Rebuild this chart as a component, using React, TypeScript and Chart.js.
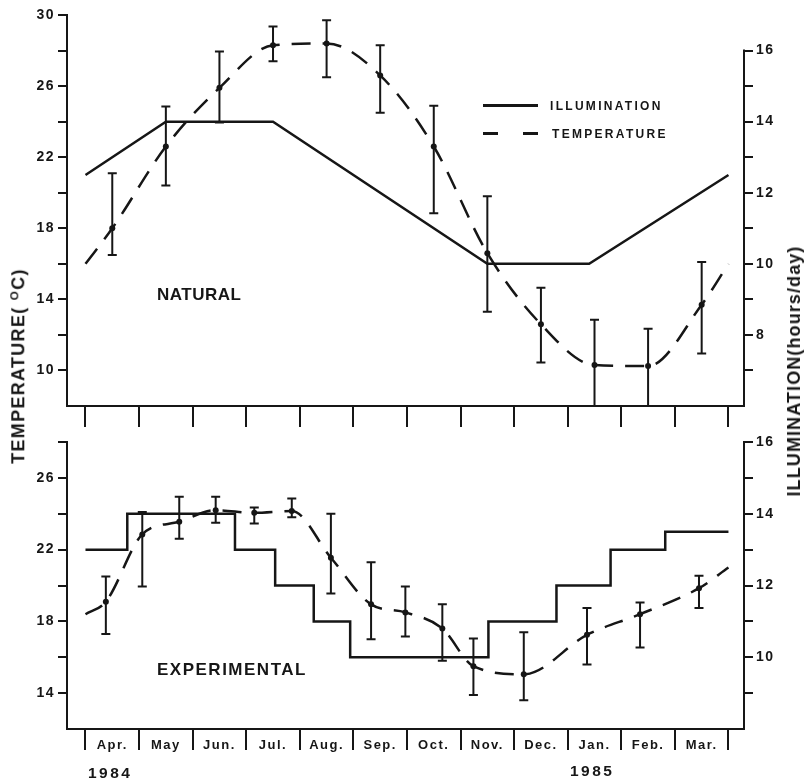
import React, { useEffect, useRef } from 'react';
import { Chart, registerables } from 'chart.js';

Chart.register(...registerables);

const INK = '#161616';
const FONT = '"Liberation Sans", Arial, Helvetica, sans-serif';

// x axis: months since 1 April 1984 (0 = start of April, 12 = end of March)
const MONTHS = ['Apr.', 'May', 'Jun.', 'Jul.', 'Aug.', 'Sep.', 'Oct.', 'Nov.', 'Dec.', 'Jan.', 'Feb.', 'Mar.'];
const MONTH_BOUNDARIES = [0, 1, 2, 3, 4, 5, 6, 7, 8, 9, 10, 11, 12];
const MONTH_CENTRES = [0.5, 1.5, 2.5, 3.5, 4.5, 5.5, 6.5, 7.5, 8.5, 9.5, 10.5, 11.5];
const YEARS = ['1984', '1985'];
const LEGEND_LABELS = ['ILLUMINATION', 'TEMPERATURE'];
const PANEL_LABELS = ['NATURAL', 'EXPERIMENTAL'];
const X_RANGE = [-0.345, 12.29];

// ---- NATURAL panel ----
const natIllumX = [0, 1.5, 3.5, 7.5, 9.4, 12];
const natIllumHours = [12.5, 14, 14, 10, 10, 12.5];
const natTempX = [0.5, 1.5, 2.5, 3.5, 4.5, 5.5, 6.5, 7.5, 8.5, 9.5, 10.5, 11.5];
const natTempMean = [18.0, 22.6, 25.9, 28.3, 28.4, 26.6, 22.6, 16.6, 12.6, 10.3, 10.25, 13.7];
const natTempHigh = [21.1, 24.85, 27.95, 29.35, 29.7, 28.3, 24.9, 19.8, 14.65, 12.85, 12.35, 16.1];
const natTempLow = [16.5, 20.4, 23.95, 27.4, 26.5, 24.5, 18.85, 13.3, 10.45, 8.0, 8.0, 10.95];
const natCurveEnds = [16.0, 16.0];
const natTempRange = [8, 30];
const natHourRange = [6, 17];
const natTempTicks = [10, 12, 14, 16, 18, 20, 22, 24, 26, 28, 30];
const natTempLabels = [10, 14, 18, 22, 26, 30];
const natHourTicks = [7, 8, 9, 10, 11, 12, 13, 14, 15, 16];
const natHourLabels = [8, 10, 12, 14, 16];
const natHourAxisTop = 16;

// ---- EXPERIMENTAL panel ----
const expIllumX = [0, 0.78, 2.79, 3.54, 4.26, 4.94, 7.52, 8.79, 9.8, 10.82, 12];
const expIllumHours = [13, 14, 13, 12, 11, 10, 11, 12, 13, 13.5, 13.5];
const expTempX = [0.38, 1.06, 1.75, 2.43, 3.15, 3.85, 4.58, 5.33, 5.97, 6.66, 7.24, 8.18, 9.36, 10.35, 11.45];
const expTempMean = [19.1, 22.85, 23.55, 24.2, 24.05, 24.15, 21.55, 18.95, 18.5, 17.6, 15.5, 15.05, 17.25, 18.4, 19.85];
const expTempHigh = [20.5, 24.1, 24.95, 24.95, 24.35, 24.85, 24.0, 21.3, 19.95, 18.95, 17.05, 17.4, 18.75, 19.05, 20.55];
const expTempLow = [17.3, 19.95, 22.6, 23.5, 23.45, 23.8, 19.55, 17.0, 17.15, 15.8, 13.9, 13.6, 15.6, 16.55, 18.75];
const expCurveEnds = [18.4, 21.0];
const expTempRange = [12, 28];
const expHourRange = [8, 16];
const expTempTicks = [14, 16, 18, 20, 22, 24, 26, 28];
const expTempLabels = [14, 18, 22, 26];
const expHourTicks = [9, 10, 11, 12, 13, 14, 15, 16];
const expHourLabels = [10, 12, 14, 16];

const pts = (xs: number[], ys: number[]) => xs.map((x, i) => ({ x, y: ys[i] }));

const errorBars = {
  id: 'errorBars',
  afterDatasetsDraw(chart: any) {
    const ctx = chart.ctx;
    chart.data.datasets.forEach((ds: any, i: number) => {
      if (!ds.errHigh) return;
      const meta = chart.getDatasetMeta(i);
      const xs = chart.scales[meta.xAxisID];
      const ys = chart.scales[meta.yAxisID];
      ctx.save();
      ctx.strokeStyle = INK;
      ctx.lineWidth = 2;
      ds.data.forEach((p: any, j: number) => {
        const x = xs.getPixelForValue(p.x);
        const yh = ys.getPixelForValue(ds.errHigh[j]);
        const yl = ys.getPixelForValue(ds.errLow[j]);
        ctx.beginPath();
        ctx.moveTo(x, yh);
        ctx.lineTo(x, yl);
        ctx.moveTo(x - 4.5, yh);
        ctx.lineTo(x + 4.5, yh);
        ctx.moveTo(x - 4.5, yl);
        ctx.lineTo(x + 4.5, yl);
        ctx.stroke();
      });
      ctx.restore();
    });
  },
};

const spacing = {
  id: 'spacing',
  beforeDraw(chart: any) {
    (chart.ctx as any).letterSpacing = '1.5px';
  },
};

const makePartialAxis = (top: number) => ({
  id: 'partialAxis',
  afterDraw(chart: any) {
    const s = chart.scales.y2;
    const ctx = chart.ctx;
    const x = Math.round(s.left);
    ctx.save();
    ctx.strokeStyle = INK;
    ctx.lineWidth = 2;
    ctx.beginPath();
    ctx.moveTo(x, s.getPixelForValue(top) - 1);
    ctx.lineTo(x, chart.chartArea.bottom + 1);
    ctx.stroke();
    ctx.restore();
  },
});

const yTickFont = { family: FONT, size: 14, weight: 'bold' as const };
const xTickFont = { family: FONT, size: 13, weight: 'bold' as const };

function yAxis(pos: 'left' | 'right', range: number[], ticks: number[], labels: number[], width: number, border = true) {
  return {
    type: 'linear',
    position: pos,
    min: range[0],
    max: range[1],
    bounds: 'data',
    afterBuildTicks: (s: any) => {
      s.ticks = ticks.map((v) => ({ value: v }));
    },
    afterFit: (s: any) => {
      s.width = width;
    },
    ticks: {
      callback: (v: number) => (labels.includes(v) ? String(v) : ''),
      font: yTickFont,
      color: INK,
      padding: 3,
      autoSkip: false,
    },
    grid: { drawOnChartArea: false, drawTicks: true, tickLength: 9, color: INK, lineWidth: 2 },
    border: { display: border, color: INK, width: 2 },
  };
}

function xAxis(withLabels: boolean, height: number) {
  const tickVals = withLabels
    ? [...MONTH_BOUNDARIES, ...MONTH_CENTRES].sort((a, b) => a - b)
    : MONTH_BOUNDARIES;
  return {
    type: 'linear',
    min: X_RANGE[0],
    max: X_RANGE[1],
    bounds: 'data',
    afterBuildTicks: (s: any) => {
      s.ticks = tickVals.map((v) => ({ value: v }));
    },
    afterFit: (s: any) => {
      s.height = height;
    },
    ticks: {
      display: withLabels,
      callback: (v: number) => {
        const i = MONTH_CENTRES.indexOf(v);
        return i >= 0 ? MONTHS[i] : '';
      },
      font: xTickFont,
      color: INK,
      padding: -12,
      maxRotation: 0,
      minRotation: 0,
      autoSkip: false,
    },
    grid: {
      drawOnChartArea: false,
      drawTicks: true,
      tickLength: 21,
      lineWidth: 2,
      color: (c: any) => (c.tick && MONTH_BOUNDARIES.includes(c.tick.value) ? INK : 'rgba(0,0,0,0)'),
    },
    border: { display: true, color: INK, width: 2 },
  };
}

function buildConfig(panel: 'nat' | 'exp'): any {
  const nat = panel === 'nat';
  const illum = nat
    ? {
        label: LEGEND_LABELS[0],
        data: pts(natIllumX, natIllumHours),
        yAxisID: 'y2',
        borderColor: INK,
        borderWidth: 2.5,
        pointRadius: 0,
        fill: false,
        tension: 0,
      }
    : {
        label: LEGEND_LABELS[0],
        data: pts(expIllumX, expIllumHours),
        yAxisID: 'y2',
        borderColor: INK,
        borderWidth: 2.5,
        pointRadius: 0,
        fill: false,
        stepped: 'before',
      };
  const tx = nat ? natTempX : expTempX;
  const tm = nat ? natTempMean : expTempMean;
  const ends = nat ? natCurveEnds : expCurveEnds;
  const curve = [{ x: MONTH_BOUNDARIES[0], y: ends[0] }, ...pts(tx, tm), { x: MONTH_BOUNDARIES[12], y: ends[1] }];
  const datasets = [
    illum,
    {
      label: LEGEND_LABELS[1],
      data: curve,
      yAxisID: 'y',
      borderColor: INK,
      borderWidth: 2.5,
      borderDash: [19, 12],
      pointRadius: 0,
      fill: false,
      cubicInterpolationMode: 'monotone',
    },
    {
      label: LEGEND_LABELS[1] + ' mean',
      data: pts(tx, tm),
      yAxisID: 'y',
      showLine: false,
      pointRadius: 3,
      pointBackgroundColor: INK,
      pointBorderColor: INK,
      pointBorderWidth: 0,
      errHigh: nat ? natTempHigh : expTempHigh,
      errLow: nat ? natTempLow : expTempLow,
    },
  ];
  const plugins: any[] = [spacing, errorBars];
  if (nat) plugins.push(makePartialAxis(natHourAxisTop));
  return {
    type: 'line',
    data: { datasets },
    plugins,
    options: {
      responsive: false,
      animation: false,
      events: [],
      layout: { padding: { top: nat ? 15 : 12, left: 0, right: 0, bottom: 0 } },
      plugins: { legend: { display: false }, tooltip: { enabled: false } },
      scales: {
        x: xAxis(!nat, nat ? 24 : 52),
        y: nat
          ? yAxis('left', natTempRange, natTempTicks, natTempLabels, 67)
          : yAxis('left', expTempRange, expTempTicks, expTempLabels, 67),
        y2: nat
          ? yAxis('right', natHourRange, natHourTicks, natHourLabels, 61, false)
          : yAxis('right', expHourRange, expHourTicks, expHourLabels, 61, true),
      },
    },
  };
}

function Panel({ panel, top, height }: { panel: 'nat' | 'exp'; top: number; height: number }) {
  const ref = useRef<HTMLCanvasElement>(null);
  useEffect(() => {
    if (!ref.current) return;
    const chart = new Chart(ref.current, buildConfig(panel));
    return () => chart.destroy();
  }, [panel]);
  return (
    <canvas
      ref={ref}
      width={805}
      height={height}
      style={{ position: 'absolute', left: 0, top, width: 805, height }}
    />
  );
}

const txt = (extra: any): any => ({
  position: 'absolute',
  whiteSpace: 'nowrap',
  color: INK,
  fontFamily: FONT,
  fontWeight: 'bold',
  lineHeight: 1,
  ...extra,
});

export default function App() {
  return (
    <div style={{ position: 'fixed', left: 0, top: 0, width: 805, height: 781, background: '#fff', overflow: 'hidden' }}>
      <Panel panel="nat" top={0} height={430} />
      <Panel panel="exp" top={430} height={351} />

      {/* legend */}
      <div style={{ position: 'absolute', left: 483, top: 104, width: 55, height: 2.5, background: INK }} />
      <div style={{ position: 'absolute', left: 483, top: 132, width: 15, height: 2.5, background: INK }} />
      <div style={{ position: 'absolute', left: 523, top: 132, width: 15, height: 2.5, background: INK }} />
      <div style={txt({ left: 550, top: 100, fontSize: 12, letterSpacing: '2.3px' })}>{LEGEND_LABELS[0]}</div>
      <div style={txt({ left: 552, top: 128, fontSize: 12, letterSpacing: '2.3px' })}>{LEGEND_LABELS[1]}</div>

      {/* panel labels */}
      <div style={txt({ left: 157, top: 286, fontSize: 17, letterSpacing: '0.5px' })}>{PANEL_LABELS[0]}</div>
      <div style={txt({ left: 157, top: 661, fontSize: 17, letterSpacing: '1.5px' })}>{PANEL_LABELS[1]}</div>

      {/* years */}
      <div style={txt({ left: 88, top: 765, fontSize: 15.5, letterSpacing: '2.5px' })}>{YEARS[0]}</div>
      <div style={txt({ left: 570, top: 763, fontSize: 15.5, letterSpacing: '2.5px' })}>{YEARS[1]}</div>

      {/* axis titles */}
      <div
        style={txt({
          left: 18,
          top: 366,
          fontSize: 18,
          letterSpacing: '1.3px',
          transform: 'translate(-50%, -50%) rotate(-90deg)',
        })}
      >
        TEMPERATURE( <sup style={{ fontSize: '0.65em', verticalAlign: '0.55em' }}>O</sup>C)
      </div>
      <div
        style={txt({
          left: 794,
          top: 371,
          fontSize: 18,
          letterSpacing: '1.1px',
          transform: 'translate(-50%, -50%) rotate(-90deg)',
        })}
      >
        ILLUMINATION(hours/day)
      </div>
    </div>
  );
}
